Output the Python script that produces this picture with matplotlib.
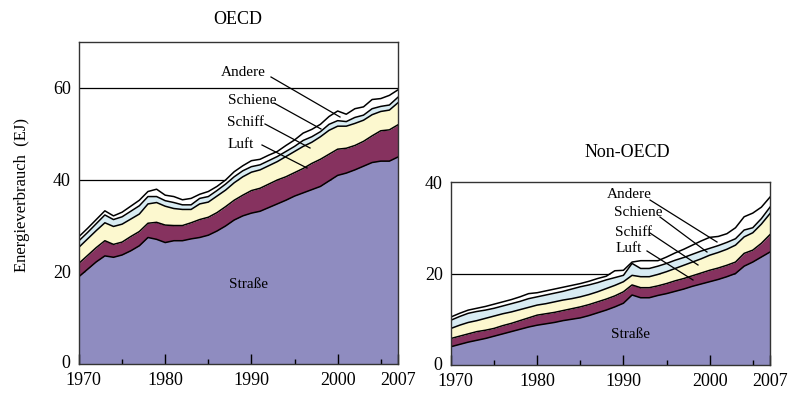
import numpy as np
import matplotlib
matplotlib.use("Agg")
import matplotlib.pyplot as plt
from matplotlib.transforms import ScaledTranslation

years = list(range(1970, 2008))
series_names = ["Straße", "Luft", "Schiff", "Schiene", "Andere"]

# OECD (EJ), per mode
oecd_strasse = [19.0, 20.6, 22.2, 23.5, 23.2, 23.7, 24.6, 25.7, 27.5, 27.1,
                26.4, 26.8, 26.8, 27.2, 27.5, 28.0, 28.9, 30.0, 31.3, 32.2,
                32.8, 33.2, 34.0, 34.8, 35.6, 36.5, 37.2, 37.9, 38.6, 39.8,
                41.0, 41.5, 42.2, 43.0, 43.8, 44.1, 44.1, 45.0]
oecd_luft = [2.9, 3.0, 3.1, 3.3, 2.8, 2.8, 3.1, 3.1, 3.1, 3.7,
             3.8, 3.3, 3.3, 3.5, 3.9, 3.9, 4.0, 4.2, 4.3, 4.5,
             4.9, 5.0, 5.1, 5.2, 5.1, 5.1, 5.3, 5.7, 5.9, 5.8,
             5.7, 5.4, 5.3, 5.4, 5.8, 6.6, 6.8, 7.0]
oecd_schiff = [3.5, 3.6, 3.7, 3.9, 3.9, 3.9, 3.8, 3.8, 4.2, 4.3,
               4.1, 3.7, 3.5, 2.9, 3.4, 3.3, 3.6, 3.6, 3.8, 4.0,
               4.0, 4.0, 4.0, 4.0, 4.4, 4.6, 4.8, 4.6, 4.9, 5.2,
               5.0, 4.8, 4.8, 4.6, 4.6, 4.2, 4.3, 4.8]
oecd_schiene = [1.4, 1.4, 1.5, 1.7, 1.5, 1.6, 1.7, 1.8, 1.6, 1.3,
                1.2, 1.3, 1.0, 1.0, 1.2, 1.2, 1.2, 1.3, 1.3, 1.3,
                1.2, 1.1, 1.1, 1.1, 1.1, 1.1, 1.3, 1.2, 1.1, 1.3,
                1.2, 1.0, 1.3, 1.1, 1.3, 1.1, 1.1, 1.2]
oecd_andere = [0.9, 0.9, 0.9, 0.9, 0.8, 1.0, 1.1, 1.2, 1.1, 1.6,
               1.2, 1.3, 1.1, 1.4, 0.9, 1.1, 0.9, 0.9, 1.1, 1.1,
               1.3, 1.2, 1.2, 1.1, 1.3, 1.4, 1.6, 1.6, 1.6, 1.7,
               2.1, 1.6, 1.9, 1.8, 2.0, 1.7, 2.1, 1.6]

# Non-OECD (EJ), per mode
non_strasse = [4.0, 4.5, 5.0, 5.4, 5.8, 6.3, 6.8, 7.3, 7.8, 8.3,
               8.7, 9.0, 9.3, 9.7, 10.0, 10.3, 10.8, 11.4, 12.0, 12.7,
               13.5, 15.3, 14.7, 14.7, 15.2, 15.6, 16.1, 16.6, 17.2, 17.7,
               18.2, 18.7, 19.3, 20.0, 21.6, 22.5, 23.6, 24.7]
non_luft = [1.8, 1.8, 1.8, 1.9, 1.8, 1.7, 1.8, 1.8, 1.9, 2.0,
            2.2, 2.2, 2.2, 2.2, 2.3, 2.4, 2.4, 2.4, 2.4, 2.4,
            2.5, 2.2, 2.2, 2.2, 2.1, 2.2, 2.3, 2.3, 2.3, 2.4,
            2.5, 2.5, 2.5, 2.5, 2.8, 2.6, 3.0, 3.8]
non_schiff = [2.2, 2.4, 2.5, 2.4, 2.6, 2.7, 2.6, 2.5, 2.4, 2.3,
              2.2, 2.2, 2.3, 2.3, 2.2, 2.2, 2.2, 2.2, 2.3, 2.3,
              2.2, 2.1, 2.4, 2.4, 2.5, 2.6, 2.7, 2.9, 3.0, 3.1,
              3.3, 3.4, 3.5, 3.7, 3.6, 3.8, 4.2, 4.6]
non_schiene = [1.8, 1.9, 2.0, 2.0, 1.8, 1.7, 1.7, 1.8, 1.8, 1.9,
               1.8, 1.9, 1.9, 1.9, 2.1, 2.2, 2.1, 2.0, 1.9, 1.7,
               1.4, 2.6, 1.8, 1.8, 1.8, 1.8, 1.8, 1.7, 1.7, 1.7,
               1.5, 1.5, 1.5, 1.4, 1.5, 1.1, 1.2, 1.4]
non_andere = [0.7, 0.7, 0.7, 0.7, 0.8, 0.9, 0.9, 0.9, 1.0, 1.1,
              0.9, 0.9, 0.9, 0.9, 0.8, 0.7, 0.8, 0.9, 0.8, 1.5,
              1.1, 0.3, 1.7, 1.7, 1.2, 1.4, 1.6, 1.8, 2.0, 2.2,
              2.4, 2.0, 1.9, 2.4, 2.9, 3.2, 2.5, 2.2]

x_tick_labels = ["1970", "1980", "1990", "2000", "2007"]
x_tick_years = [1970, 1980, 1990, 2000, 2007]

colors = ["#8f8cc0", "#86325f", "#fcf8cf", "#d8ecf3", "#ffffff"]

plt.rcParams['font.family'] = ['Liberation Serif', 'DejaVu Serif']

fig = plt.figure(figsize=(8.0, 3.99), dpi=100)
W, H = 800.0, 399.0


def make_axes(l, r, t, b):
    return fig.add_axes([l / W, 1 - b / H, (r - l) / W, (b - t) / H])


def draw(ax, data, ymax, yticks, grid):
    x = np.array(years)
    cum = np.cumsum(np.array(data), axis=0)
    bottoms = np.vstack([np.zeros(len(years)), cum[:-1]])
    for g in grid:
        ax.axhline(g, color="black", lw=0.9, zorder=0.5)
    for i in range(len(data)):
        ax.fill_between(x, bottoms[i], cum[i], color=colors[i], lw=0, zorder=1)
    for i in range(len(data)):
        ax.plot(x, cum[i], color="black", lw=1.1, zorder=2)
    ax.set_xlim(1970, 2007)
    ax.set_ylim(0, ymax)
    ax.set_yticks(yticks)
    ax.set_yticklabels([str(v) for v in yticks], fontsize=13)
    ax.tick_params(axis="y", length=0, pad=6)
    ax.set_xticks(x_tick_years)
    ax.set_xticklabels(x_tick_labels, fontsize=13)
    ax.set_xticks([1975, 1985, 1995, 2005], minor=True)
    ax.tick_params(axis="x", which="major", direction="in", length=7, width=1, pad=6)
    ax.tick_params(axis="x", which="minor", direction="in", length=3.5, width=1)
    first = ax.get_xticklabels()[0]
    first.set_transform(first.get_transform() + ScaledTranslation(4 / 100, 0, fig.dpi_scale_trans))
    zero = ax.get_yticklabels()[0]
    zero.set_transform(zero.get_transform() + ScaledTranslation(0, 2 / 100, fig.dpi_scale_trans))
    for s in ax.spines.values():
        s.set_color("#333333")
        s.set_linewidth(1.0)
        s.set_zorder(3)


ax1 = make_axes(79, 398, 42, 364)
draw(ax1, [oecd_strasse, oecd_luft, oecd_schiff, oecd_schiene, oecd_andere],
     70, [0, 20, 40, 60], [20, 40, 60])
ax1.set_ylabel("Energieverbrauch  (EJ)", fontsize=12)
ax1.yaxis.set_label_coords((30 - 79) / 319, (364 - 195) / 322)
fig.text(238 / W, 1 - 20 / H, "OECD", ha="center", va="center", fontsize=13)

ax2 = make_axes(451, 770, 182, 365)
draw(ax2, [non_strasse, non_luft, non_schiff, non_schiene, non_andere],
     40, [0, 20, 40], [20])
fig.text(627 / W, 1 - 153 / H, "Non-OECD", ha="center", va="center", fontsize=13)


def label(text, tpos, p0, p1, fs=11):
    # positions in figure pixels (from top-left)
    fig.text(tpos[0] / W, 1 - tpos[1] / H, text, ha="center", va="center",
             fontsize=fs, zorder=5)
    fig.add_artist(plt.Line2D([p0[0] / W, p1[0] / W], [1 - p0[1] / H, 1 - p1[1] / H],
                              color="black", lw=0.9, zorder=5))


label("Andere", (243, 73), (271, 77), (340, 117))
label("Schiene", (252, 100), (274, 103), (321, 129))
label("Schiff", (246, 123), (265, 124), (310, 148))
label("Luft", (241, 145), (262, 145), (307, 168))
fig.text(248 / W, 1 - 284 / H, "Straße", ha="center", va="center", fontsize=11)

label("Andere", (629, 195), (650, 200), (717, 242))
label("Schiene", (638, 213), (660, 217), (707, 252))
label("Schiff", (634, 232), (650, 233), (698, 265))
label("Luft", (629, 249), (647, 251), (693, 280))
fig.text(630 / W, 1 - 334 / H, "Straße", ha="center", va="center", fontsize=11)

fig.savefig("out.png", dpi=100)
